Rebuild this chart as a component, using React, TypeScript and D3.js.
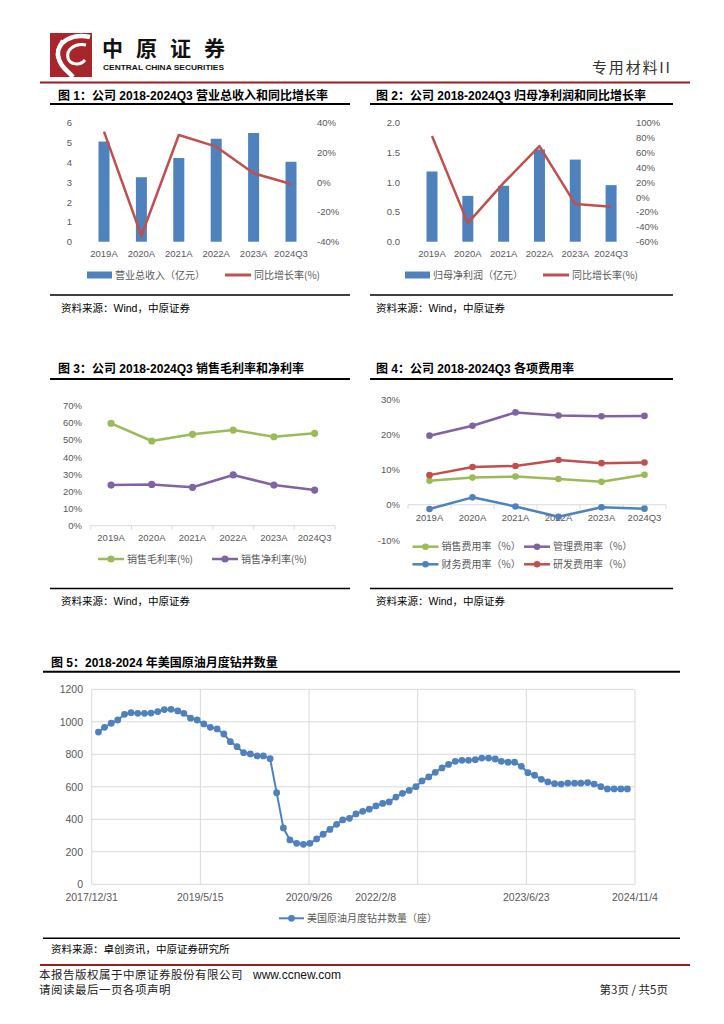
import * as d3 from "d3";

const SANS = "'Liberation Sans', Arial, 'Noto Sans CJK SC', sans-serif";
const CJK = "'Noto Sans CJK SC', 'Liberation Sans', sans-serif";
const AXIS = "#595959";
const GRID = "#d9d9d9";
const BLUE = "#4F81BD";
const RED = "#C0504D";
const GREEN = "#9BBB59";
const PURPLE = "#8064A2";
const DARKRED = "#9E1B1E";

// figures 1-4
const years = ["2019A", "2020A", "2021A", "2022A", "2023A", "2024Q3"];
const revenue = [5.05, 3.25, 4.22, 5.19, 5.48, 4.03];
const revenueYoy = [34, -36, 31.7, 23.9, 6, -1.2];
const netProfit = [1.18, 0.77, 0.94, 1.55, 1.38, 0.95];
const netProfitYoy = [82, -35, 19, 68.5, -9.4, -13];
const grossMargin = [59.7, 49.4, 53.3, 55.8, 51.9, 53.9];
const netMargin = [23.7, 24.1, 22.4, 29.6, 23.7, 20.8];
const sellingRate = [6.8, 7.7, 8.0, 7.3, 6.5, 8.5];
const adminRate = [19.6, 22.4, 26.2, 25.3, 25.1, 25.2];
const financeRate = [-1.2, 2.1, -0.5, -3.4, -0.7, -1.1];
const rdRate = [8.4, 10.7, 11.0, 12.7, 11.8, 12.0];

// figure 5: monthly US crude oil rig count, Jan 2018 - Sep 2024
const rigStart = new Date(2018, 0, 1);
const rigCount = [
  937, 966, 991, 1011, 1046, 1056, 1052, 1052, 1054, 1063, 1075, 1077,
  1067, 1052, 1022, 1011, 987, 966, 956, 925, 878, 847, 810, 802,
  790, 790, 773, 564, 347, 273, 252, 246, 252, 279, 308, 338,
  369, 396, 406, 433, 449, 462, 482, 498, 507, 537, 560, 578,
  601, 636, 661, 689, 716, 738, 757, 763, 763, 767, 777, 777,
  771, 757, 751, 751, 726, 687, 671, 646, 630, 619, 617, 622,
  622, 622, 626, 617, 601, 587, 587, 587, 587,
];
const rigTicks = ["2017/12/31", "2019/5/15", "2020/9/26", "2022/2/8", "2023/6/23", "2024/11/4"];
// the source chart draws the 2022/2/8 label left of its gridline
const rigTickShift = [0, 0, 0, -42, 0, 0];
const rigYTicks = [0, 200, 400, 600, 800, 1000, 1200];

const parseSlash = d3.timeParse("%Y/%m/%d");

function Title({ x, y, text }: { x: number; y: number; text: string }) {
  return (
    <text x={x} y={y} fontSize={12} fontWeight={700} fontFamily={SANS} fill="#000">
      {text}
    </text>
  );
}

function Source({ x, y, text }: { x: number; y: number; text: string }) {
  return (
    <text x={x} y={y} fontSize={10.5} fontFamily={SANS} fill="#000">
      {text}
    </text>
  );
}

type BarLineProps = {
  range: [number, number];
  bottom: number;
  top: number;
  bars: number[];
  line: number[];
  leftDomain: [number, number];
  leftTicks: number[];
  leftFmt: (v: number) => string;
  leftX: number;
  rightDomain: [number, number];
  rightTicks: number[];
  rightX: number;
  labelY: number;
  legendY: number;
  barLegendX: number;
  barLabel: string;
  lineLegendX: number;
  lineLabel: string;
};

function BarLine(p: BarLineProps) {
  const x = d3.scalePoint<string>().domain(years).range(p.range).padding(0.5);
  const yL = d3.scaleLinear().domain(p.leftDomain).range([p.bottom, p.top]);
  const yR = d3.scaleLinear().domain(p.rightDomain).range([p.bottom, p.top]);
  const path = d3
    .line<number>()
    .x((_, i) => x(years[i])!)
    .y((d) => yR(d))(p.line)!;
  const bw = 11;
  return (
    <g>
      {p.leftTicks.map((t) => (
        <text key={"l" + t} x={p.leftX} y={yL(t) + 3.5} fontSize={9.5} fontFamily={SANS} fill={AXIS} textAnchor="end">
          {p.leftFmt(t)}
        </text>
      ))}
      {p.rightTicks.map((t) => (
        <text key={"r" + t} x={p.rightX} y={yR(t) + 3.5} fontSize={9.5} fontFamily={SANS} fill={AXIS}>
          {t + "%"}
        </text>
      ))}
      {years.map((c) => (
        <text key={c} x={x(c)} y={p.labelY} fontSize={9.5} fontFamily={SANS} fill={AXIS} textAnchor="middle">
          {c}
        </text>
      ))}
      {p.bars.map((v, i) => (
        <rect key={i} x={x(years[i])! - bw / 2} y={yL(v)} width={bw} height={p.bottom - yL(v)} fill={BLUE} />
      ))}
      <path d={path} fill="none" stroke={RED} strokeWidth={2.5} strokeLinejoin="round" />
      <rect x={p.barLegendX} y={p.legendY - 3.5} width={25} height={7} fill={BLUE} />
      <text x={p.barLegendX + 28} y={p.legendY + 3.5} fontSize={10} fontFamily={CJK} fill={AXIS}>
        {p.barLabel}
      </text>
      <line x1={p.lineLegendX} x2={p.lineLegendX + 26} y1={p.legendY} y2={p.legendY} stroke={RED} strokeWidth={3} />
      <text x={p.lineLegendX + 29} y={p.legendY + 3.5} fontSize={10} fontFamily={CJK} fill={AXIS}>
        {p.lineLabel}
      </text>
    </g>
  );
}

type Series = { values: number[]; color: string };

function LineSet({
  range,
  y,
  series,
  r,
}: {
  range: [number, number];
  y: d3.ScaleLinear<number, number>;
  series: Series[];
  r: number;
}) {
  const x = d3.scalePoint<string>().domain(years).range(range).padding(0.5);
  return (
    <g>
      {series.map((s, k) => {
        const d = d3
          .line<number>()
          .x((_, i) => x(years[i])!)
          .y((v) => y(v))(s.values)!;
        return (
          <g key={k}>
            <path d={d} fill="none" stroke={s.color} strokeWidth={2.5} strokeLinejoin="round" />
            {s.values.map((v, i) => (
              <circle key={i} cx={x(years[i])} cy={y(v)} r={r} fill={s.color} />
            ))}
          </g>
        );
      })}
    </g>
  );
}

function CatAxis({ range, y, labelY }: { range: [number, number]; y: number; labelY: number }) {
  const x = d3.scalePoint<string>().domain(years).range(range).padding(0.5);
  const step = x.step();
  const bounds = d3.range(years.length + 1).map((i) => range[0] + i * step);
  return (
    <g>
      <line x1={range[0]} x2={range[1]} y1={y} y2={y} stroke={GRID} strokeWidth={1} />
      {bounds.map((b, i) => (
        <line key={i} x1={b} x2={b} y1={y} y2={y + 4} stroke={GRID} strokeWidth={1} />
      ))}
      {years.map((c) => (
        <text key={c} x={x(c)} y={labelY} fontSize={9.5} fontFamily={SANS} fill={AXIS} textAnchor="middle">
          {c}
        </text>
      ))}
    </g>
  );
}

function LegendItem({ x, y, color, label, r }: { x: number; y: number; color: string; label: string; r: number }) {
  return (
    <g>
      <line x1={x} x2={x + 26} y1={y} y2={y} stroke={color} strokeWidth={2.5} />
      <circle cx={x + 13} cy={y} r={r} fill={color} />
      <text x={x + 29} y={y + 3.5} fontSize={10} fontFamily={CJK} fill={AXIS}>
        {label}
      </text>
    </g>
  );
}

function Margins() {
  const y = d3.scaleLinear().domain([0, 70]).range([525.7, 405.7]);
  const ticks = d3.range(0, 71, 10);
  const range: [number, number] = [90.7, 335];
  return (
    <g>
      {ticks.map((t) => (
        <text key={t} x={82} y={y(t) + 3.5} fontSize={9.5} fontFamily={SANS} fill={AXIS} textAnchor="end">
          {t + "%"}
        </text>
      ))}
      <CatAxis range={range} y={y(0)} labelY={541} />
      <LineSet
        range={range}
        y={y}
        r={3.6}
        series={[
          { values: grossMargin, color: GREEN },
          { values: netMargin, color: PURPLE },
        ]}
      />
      <LegendItem x={98} y={559} color={GREEN} label="销售毛利率(%)" r={3.6} />
      <LegendItem x={212} y={559} color={PURPLE} label="销售净利率(%)" r={3.6} />
    </g>
  );
}

function Expenses() {
  const y = d3.scaleLinear().domain([-10, 30]).range([540, 399]);
  const ticks = d3.range(-10, 31, 10);
  const range: [number, number] = [408, 666];
  return (
    <g>
      {ticks.map((t) => (
        <text key={t} x={400} y={y(t) + 3.5} fontSize={9.5} fontFamily={SANS} fill={AXIS} textAnchor="end">
          {t + "%"}
        </text>
      ))}
      <CatAxis range={range} y={y(0)} labelY={521} />
      <LineSet
        range={range}
        y={y}
        r={3.3}
        series={[
          { values: sellingRate, color: GREEN },
          { values: adminRate, color: PURPLE },
          { values: financeRate, color: BLUE },
          { values: rdRate, color: RED },
        ]}
      />
      <LegendItem x={412.5} y={546.7} color={GREEN} label="销售费用率（%）" r={3.3} />
      <LegendItem x={524} y={546.7} color={PURPLE} label="管理费用率（%）" r={3.3} />
      <LegendItem x={412.5} y={564.3} color={BLUE} label="财务费用率（%）" r={3.3} />
      <LegendItem x={524} y={564.3} color={RED} label="研发费用率（%）" r={3.3} />
    </g>
  );
}

function Rigs() {
  const tickDates = rigTicks.map((t) => parseSlash(t)!);
  const x = d3
    .scaleTime()
    .domain([tickDates[0], tickDates[tickDates.length - 1]])
    .range([91.7, 635]);
  const y = d3.scaleLinear().domain([0, 1200]).range([884.3, 689.3]);
  const months = d3.timeMonth.range(rigStart, d3.timeMonth.offset(rigStart, rigCount.length));
  const dates = months.map((m) => d3.timeDay.offset(d3.timeMonth.offset(m, 1), -1));
  const path = d3
    .line<number>()
    .x((_, i) => x(dates[i]))
    .y((v) => y(v))(rigCount)!;
  return (
    <g>
      {rigYTicks.map((t) => (
        <g key={t}>
          <line x1={91.7} x2={635} y1={y(t)} y2={y(t)} stroke={GRID} strokeWidth={1} />
          <text x={83} y={y(t) + 3.7} fontSize={10.5} fontFamily={SANS} fill={AXIS} textAnchor="end">
            {t}
          </text>
        </g>
      ))}
      {tickDates.map((d, i) => (
        <g key={i}>
          <line x1={x(d)} x2={x(d)} y1={y(0)} y2={y(1200)} stroke={GRID} strokeWidth={1} />
          <text x={x(d) + rigTickShift[i]} y={900.5} fontSize={10.5} fontFamily={SANS} fill={AXIS} textAnchor="middle">
            {rigTicks[i]}
          </text>
        </g>
      ))}
      <path d={path} fill="none" stroke={BLUE} strokeWidth={2} strokeLinejoin="round" />
      {rigCount.map((v, i) => (
        <circle key={i} cx={x(dates[i])} cy={y(v)} r={3.4} fill={BLUE} />
      ))}
      <line x1={279} x2={304} y1={918.3} y2={918.3} stroke={BLUE} strokeWidth={2} />
      <circle cx={291.5} cy={918.3} r={3.4} fill={BLUE} />
      <text x={307} y={921.8} fontSize={10} fontFamily={CJK} fill={AXIS}>
        美国原油月度钻井数量（座）
      </text>
    </g>
  );
}

function Header() {
  return (
    <g>
      <rect x={50} y={33} width={42} height={44} fill="#A8262B" />
      <path d="M90 37 C72 33 57 42 58 55 C59 66 68 71 73 77" fill="none" stroke="#fff" strokeWidth={4.5} />
      <path d="M86 45 C74 43 66 50 68 58 C70 65 80 66 85 60" fill="none" stroke="#fff" strokeWidth={3} />
      <path d="M62 40 C58 46 56 52 57 58" fill="none" stroke="#fff" strokeWidth={2} />
      <text x={102} y={56} fontSize={21} fontWeight={700} fontFamily={CJK} fill="#111" textLength={123} lengthAdjust="spacing">
        中原证券
      </text>
      <text x={103} y={69.5} fontSize={7.5} fontWeight={700} fontFamily={SANS} fill="#111" textLength={121} lengthAdjust="spacingAndGlyphs">
        CENTRAL CHINA SECURITIES
      </text>
      <text x={592} y={73} fontSize={15} fontFamily={CJK} fill="#333" textLength={78} lengthAdjust="spacing">
        专用材料II
      </text>
      <line x1={40} x2={690} y1={82.5} y2={82.5} stroke={DARKRED} strokeWidth={2} />
    </g>
  );
}

function Footer() {
  return (
    <g>
      <line x1={40} x2={690} y1={965} y2={965} stroke={DARKRED} strokeWidth={2} />
      <text x={39} y={979} fontSize={11.5} fontFamily={CJK} fill="#222" letterSpacing={0.5}>
        本报告版权属于中原证券股份有限公司
      </text>
      <text x={253} y={979} fontSize={12} fontFamily={SANS} fill="#111">
        www.ccnew.com
      </text>
      <text x={39} y={994} fontSize={11.5} fontFamily={CJK} fill="#222" letterSpacing={0.5}>
        请阅读最后一页各项声明
      </text>
      <text x={668} y={994} fontSize={11.5} fontFamily={CJK} fill="#222" textAnchor="end">
        第3页 / 共5页
      </text>
    </g>
  );
}

export default function App() {
  return (
    <svg
      width={724}
      height={1024}
      style={{ position: "absolute", left: 0, top: 0, background: "#fff" }}
    >
      <Header />

      {/* figure 1 */}
      <Title x={58} y={99.5} text="图 1：公司 2018-2024Q3 营业总收入和同比增长率" />
      <line x1={50} x2={350} y1={104} y2={104} stroke="#000" strokeWidth={2} />
      <BarLine
        range={[85.3, 309.7]}
        bottom={241.7}
        top={122.7}
        bars={revenue}
        line={revenueYoy}
        leftDomain={[0, 6]}
        leftTicks={[0, 1, 2, 3, 4, 5, 6]}
        leftFmt={(v) => String(v)}
        leftX={72}
        rightDomain={[-40, 40]}
        rightTicks={[-40, -20, 0, 20, 40]}
        rightX={317}
        labelY={256.5}
        legendY={275}
        barLegendX={87}
        barLabel="营业总收入（亿元）"
        lineLegendX={225}
        lineLabel="同比增长率(%)"
      />
      <line x1={50} x2={350} y1={295} y2={295} stroke="#000" strokeWidth={1.5} />
      <Source x={61} y={312} text="资料来源：Wind，中原证券" />

      {/* figure 2 */}
      <Title x={376} y={99.5} text="图 2：公司 2018-2024Q3 归母净利润和同比增长率" />
      <line x1={370} x2={673} y1={104} y2={104} stroke="#000" strokeWidth={2} />
      <BarLine
        range={[414.1, 629]}
        bottom={241.7}
        top={122.7}
        bars={netProfit}
        line={netProfitYoy}
        leftDomain={[0, 2]}
        leftTicks={[0, 0.5, 1, 1.5, 2]}
        leftFmt={(v) => v.toFixed(1)}
        leftX={400}
        rightDomain={[-60, 100]}
        rightTicks={d3.range(-60, 101, 20)}
        rightX={636}
        labelY={256.5}
        legendY={275}
        barLegendX={405}
        barLabel="归母净利润（亿元）"
        lineLegendX={543}
        lineLabel="同比增长率(%)"
      />
      <line x1={370} x2={673} y1={295} y2={295} stroke="#000" strokeWidth={1.5} />
      <Source x={376} y={312} text="资料来源：Wind，中原证券" />

      {/* figure 3 */}
      <Title x={58} y={372.5} text="图 3：公司 2018-2024Q3 销售毛利率和净利率" />
      <line x1={50} x2={350} y1={379} y2={379} stroke="#000" strokeWidth={2} />
      <Margins />
      <line x1={50} x2={350} y1={588.5} y2={588.5} stroke="#000" strokeWidth={1.5} />
      <Source x={61} y={605} text="资料来源：Wind，中原证券" />

      {/* figure 4 */}
      <Title x={376} y={372.5} text="图 4：公司 2018-2024Q3 各项费用率" />
      <line x1={370} x2={673} y1={379} y2={379} stroke="#000" strokeWidth={2} />
      <Expenses />
      <line x1={370} x2={673} y1={588.5} y2={588.5} stroke="#000" strokeWidth={1.5} />
      <Source x={376} y={605} text="资料来源：Wind，中原证券" />

      {/* figure 5 */}
      <Title x={51} y={667} text="图 5：2018-2024 年美国原油月度钻井数量" />
      <line x1={43} x2={680} y1={671.7} y2={671.7} stroke="#000" strokeWidth={2} />
      <Rigs />
      <line x1={43} x2={680} y1={938.3} y2={938.3} stroke="#000" strokeWidth={1.5} />
      <Source x={51} y={953} text="资料来源：卓创资讯，中原证券研究所" />

      <Footer />
    </svg>
  );
}
